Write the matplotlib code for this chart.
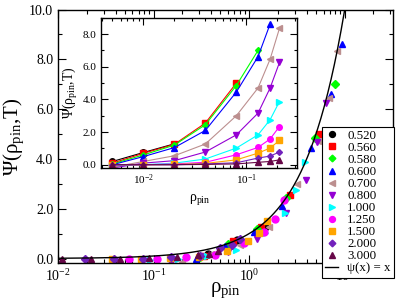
import numpy as np
import matplotlib.pyplot as plt

plt.rcParams['font.family'] = ['Liberation Serif', 'DejaVu Serif']
plt.rcParams['mathtext.fontset'] = 'custom'
plt.rcParams['mathtext.rm'] = 'Liberation Serif'
plt.rcParams['mathtext.it'] = 'Liberation Serif:italic'

# pinning densities used in the inset
rho = [0.005, 0.01, 0.02, 0.04, 0.08, 0.13, 0.17, 0.21]

temps = ['0.520', '0.560', '0.580', '0.600', '0.700', '0.800',
         '1.000', '1.250', '1.500', '2.000', '3.000']

psi_052 = [0.2, 0.75, 1.28]
psi_056 = [0.1, 0.7, 1.25, 2.55, 5.0]
psi_058 = [0.05, 0.6, 1.2, 2.45, 4.85, 7.0]
psi_060 = [0.0, 0.5, 1.05, 2.1, 4.45, 6.62, 8.6]
psi_070 = [-0.15, 0.2, 0.55, 1.27, 3.0, 4.7, 6.45, 8.35]
psi_080 = [-0.2, 0.1, 0.25, 0.78, 1.83, 3.16, 4.69, 6.26]
psi_100 = [-0.05, 0.0, 0.1, 0.35, 1.02, 1.83, 2.75, 3.87]
psi_125 = [0.0, 0.0, 0.05, 0.15, 0.61, 1.06, 1.57, 2.34]
psi_150 = [0.0, 0.0, 0.02, 0.08, 0.3, 0.71, 1.02, 1.49]
psi_200 = [0.0, 0.0, 0.0, 0.05, 0.12, 0.41, 0.53, 0.78]
psi_300 = [0.0, 0.0, 0.0, 0.02, 0.05, 0.15, 0.2, 0.3]

# collapse scale rho_c(T) for the main panel
rho_c = [0.0135, 0.0149, 0.0165, 0.018, 0.025, 0.033,
         0.055, 0.091, 0.135, 0.26, 0.45]

all_psi = [psi_052, psi_056, psi_058, psi_060, psi_070, psi_080,
           psi_100, psi_125, psi_150, psi_200, psi_300]

colors = ['black', 'red', '#00ff00', 'blue', '#bc8f8f', '#9400d3',
          'cyan', 'magenta', 'orange', '#7221bc', '#670748']
markers = ['o', 's', 'D', '^', '<', 'v', '>', 'o', 's', 'D', '^']
msizes = [5, 5, 4, 5, 5, 5, 5, 5, 5, 4, 5]

fig = plt.figure(figsize=(4.07, 3.03), dpi=100)
ax = fig.add_axes([0.1425, 0.1304, 0.8231, 0.8382])

curve_x = np.logspace(-2, 1.5, 300)
for i, psi in enumerate(all_psi):
    r = np.array(rho[:len(psi)])
    ax.plot(r / rho_c[i], psi, ls='none', marker=markers[i], ms=msizes[i],
            color=colors[i], mec=colors[i], label=temps[i])
ax.plot(curve_x, curve_x, color='black', lw=1.0, label='ψ(x) = x')

ax.set_xscale('log')
ax.set_xlim(0.01, 32)
ax.set_ylim(-0.2, 10)
ax.set_yticks(np.arange(0, 10.1, 2))
ax.set_yticks(np.arange(0, 10.1, 1), minor=True)
ax.yaxis.set_major_formatter(plt.FormatStrFormatter('%.1f'))
ax.tick_params(which='both', direction='in', top=True, right=True,
               labelsize=10, width=0.8)
ax.tick_params(which='major', length=6)
ax.tick_params(which='minor', length=3)
ax.set_xlabel('ρ$_{\\mathrm{pin}}$', fontsize=15, labelpad=-3)
ax.set_ylabel('Ψ(ρ$_{\\mathrm{pin}}$,T)', fontsize=15, labelpad=2)
for s in ax.spines.values():
    s.set_linewidth(1.0)

leg = ax.legend(loc='upper right', bbox_to_anchor=(0.968, 0.582),
                bbox_transform=fig.transFigure, fontsize=9.3, frameon=True,
                fancybox=False, edgecolor='black', framealpha=1,
                borderaxespad=0, labelspacing=0.0, handlelength=1.0,
                handletextpad=0.7, borderpad=0.25, markerscale=0.85)
leg.get_frame().set_linewidth(0.8)

# inset
ins = fig.add_axes([0.2489, 0.4455, 0.4816, 0.496])
for i, psi in enumerate(all_psi):
    ins.plot(rho[:len(psi)], psi, marker=markers[i], ms=msizes[i] - 1,
             color=colors[i], lw=0.8)
ins.set_xscale('log')
ins.set_xlim(0.0039, 0.313)
ins.set_ylim(-0.2, 9.0)
ins.set_yticks(np.arange(0, 8.1, 2))
ins.set_yticks(np.arange(0, 9.1, 1), minor=True)
ins.yaxis.set_major_formatter(plt.FormatStrFormatter('%.1f'))
ins.tick_params(which='both', direction='in', top=True, right=True,
                labelsize=8, width=0.8)
ins.tick_params(which='major', length=5)
ins.tick_params(which='minor', length=2.5)
ins.set_xlabel('ρ$_{\\mathrm{pin}}$', fontsize=10, labelpad=3)
ins.set_ylabel('Ψ(ρ$_{\\mathrm{pin}}$,T)', fontsize=10, labelpad=2)
for s in ins.spines.values():
    s.set_linewidth(1.0)

fig.savefig('out.png', dpi=100)
